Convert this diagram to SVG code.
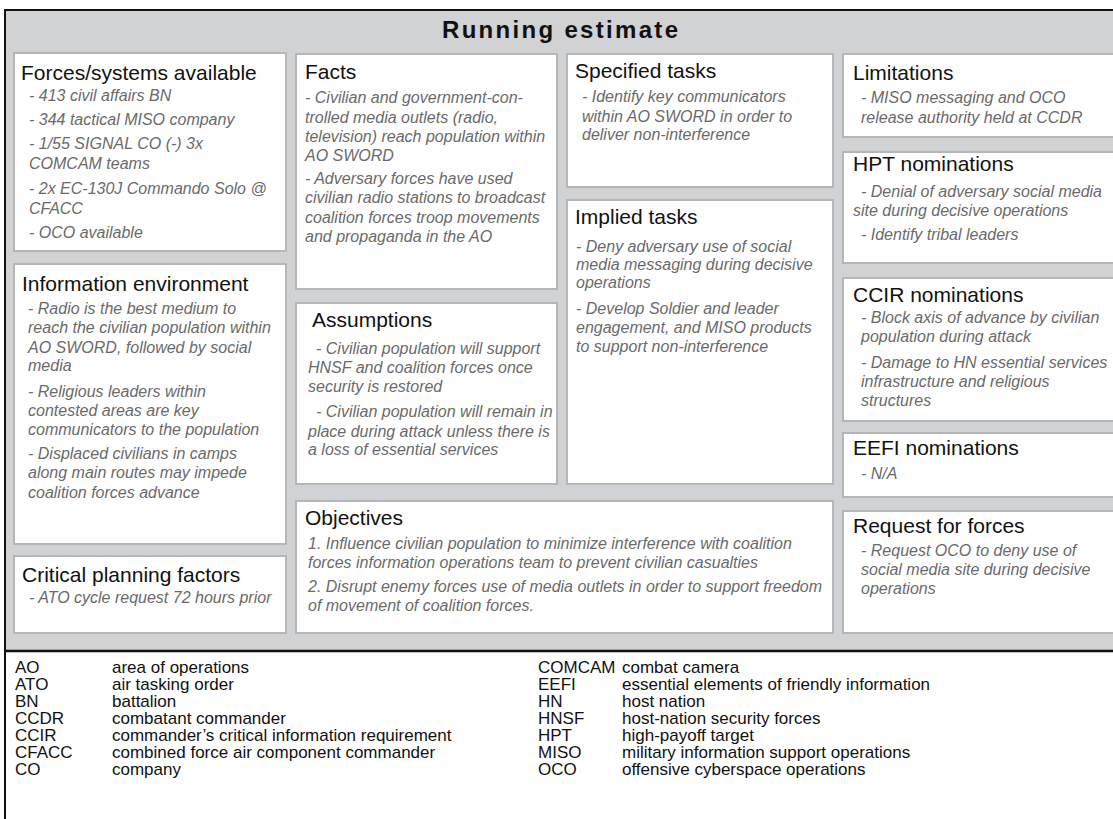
<svg xmlns="http://www.w3.org/2000/svg" width="1113" height="819" viewBox="0 0 1113 819">
<style>
.bg{fill:#d1d2d4}
.box{fill:#ffffff;stroke:#b5b6b8;stroke-width:2}
text{font-family:"Liberation Sans",Arial,sans-serif}
.t{font-size:24px;font-weight:bold;fill:#111}
.h{font-size:21px;fill:#111}
.b{font-size:16px;font-style:italic;fill:#6a6a6a}
.lg{font-size:17px;fill:#111}
</style>
<rect x="0" y="0" width="1113" height="819" fill="#ffffff"/>
<rect class="bg" x="5" y="10" width="1110" height="640"/>
<line x1="5" y1="10" x2="1113" y2="10" stroke="#111" stroke-width="2"/>
<line x1="5" y1="9" x2="5" y2="819" stroke="#111" stroke-width="2"/>
<line x1="5" y1="651" x2="1113" y2="651" stroke="#111" stroke-width="2.5"/>
<text class="t" x="442" y="38" textLength="236" lengthAdjust="spacing">Running estimate</text>

<g id="forces">
<rect class="box" x="14" y="53" width="272" height="198"/>
<text class="h" x="21" y="80">Forces/systems available</text>
<text class="b" x="29" y="101">- 413 civil affairs BN</text>
<text class="b" x="29" y="125">- 344 tactical MISO company</text>
<text class="b" x="29" y="149">- 1/55 SIGNAL CO (-) 3x</text>
<text class="b" x="29" y="169">COMCAM teams</text>
<text class="b" x="29" y="194">- 2x EC-130J Commando Solo @</text>
<text class="b" x="29" y="214">CFACC</text>
<text class="b" x="29" y="238">- OCO available</text>
</g>

<g id="info-env">
<rect class="box" x="14" y="264" width="272" height="280"/>
<text class="h" x="22" y="291">Information environment</text>
<text class="b" x="28" y="314">- Radio is the best medium to</text>
<text class="b" x="28" y="333">reach the civilian population within</text>
<text class="b" x="28" y="353">AO SWORD, followed by social</text>
<text class="b" x="28" y="371">media</text>
<text class="b" x="28" y="397">- Religious leaders within</text>
<text class="b" x="28" y="416">contested areas are key</text>
<text class="b" x="28" y="435">communicators to the population</text>
<text class="b" x="28" y="459">- Displaced civilians in camps</text>
<text class="b" x="28" y="478">along main routes may impede</text>
<text class="b" x="28" y="498">coalition forces advance</text>
</g>

<g id="critical">
<rect class="box" x="14" y="556" width="272" height="77"/>
<text class="h" x="22" y="582">Critical planning factors</text>
<text class="b" x="29" y="603">- ATO cycle request 72 hours prior</text>
</g>

<g id="facts">
<rect class="box" x="296" y="54" width="261" height="235"/>
<text class="h" x="305" y="79">Facts</text>
<text class="b" x="305" y="103">- Civilian and government-con-</text>
<text class="b" x="305" y="123">trolled media outlets (radio,</text>
<text class="b" x="305" y="142">television) reach population within</text>
<text class="b" x="305" y="161">AO SWORD</text>
<text class="b" x="305" y="184">- Adversary forces have used</text>
<text class="b" x="305" y="203">civilian radio stations to broadcast</text>
<text class="b" x="305" y="223">coalition forces troop movements</text>
<text class="b" x="305" y="242">and propaganda in the AO</text>
</g>

<g id="assumptions">
<rect class="box" x="296" y="303" width="261" height="181"/>
<text class="h" x="312" y="327">Assumptions</text>
<text class="b" x="316" y="354">- Civilian population will support</text>
<text class="b" x="308" y="373">HNSF and coalition forces once</text>
<text class="b" x="308" y="392">security is restored</text>
<text class="b" x="316" y="417">- Civilian population will remain in</text>
<text class="b" x="308" y="437">place during attack unless there is</text>
<text class="b" x="308" y="455">a loss of essential services</text>
</g>

<g id="specified">
<rect class="box" x="567" y="54" width="266" height="133"/>
<text class="h" x="575" y="78">Specified tasks</text>
<text class="b" x="582" y="102">- Identify key communicators</text>
<text class="b" x="582" y="122">within AO SWORD in order to</text>
<text class="b" x="582" y="140">deliver non-interference</text>
</g>

<g id="implied">
<rect class="box" x="567" y="200" width="266" height="284"/>
<text class="h" x="575" y="224">Implied tasks</text>
<text class="b" x="576" y="252">- Deny adversary use of social</text>
<text class="b" x="576" y="270">media messaging during decisive</text>
<text class="b" x="576" y="288">operations</text>
<text class="b" x="576" y="314">- Develop Soldier and leader</text>
<text class="b" x="576" y="333">engagement, and MISO products</text>
<text class="b" x="576" y="352">to support non-interference</text>
</g>

<g id="objectives">
<rect class="box" x="296" y="501" width="537" height="132"/>
<text class="h" x="305" y="525">Objectives</text>
<text class="b" x="308" y="549">1. Influence civilian population to minimize interference with coalition</text>
<text class="b" x="308" y="568">forces information operations team to prevent civilian casualties</text>
<text class="b" x="308" y="592">2. Disrupt enemy forces use of media outlets in order to support freedom</text>
<text class="b" x="308" y="611">of movement of coalition forces.</text>
</g>

<g id="limitations">
<rect class="box" x="843" y="54" width="280" height="83"/>
<text class="h" x="853" y="80">Limitations</text>
<text class="b" x="861" y="103">- MISO messaging and OCO</text>
<text class="b" x="861" y="123">release authority held at CCDR</text>
</g>

<g id="hpt">
<rect class="box" x="843" y="152" width="280" height="111"/>
<text class="h" x="853" y="171">HPT nominations</text>
<text class="b" x="861" y="197">- Denial of adversary social media</text>
<text class="b" x="853" y="216">site during decisive operations</text>
<text class="b" x="861" y="240">- Identify tribal leaders</text>
</g>

<g id="ccir">
<rect class="box" x="843" y="278" width="280" height="143"/>
<text class="h" x="853" y="302">CCIR nominations</text>
<text class="b" x="861" y="323">- Block axis of advance by civilian</text>
<text class="b" x="861" y="342">population during attack</text>
<text class="b" x="861" y="368">- Damage to HN essential services</text>
<text class="b" x="861" y="387">infrastructure and religious</text>
<text class="b" x="861" y="406">structures</text>
</g>

<g id="eefi">
<rect class="box" x="843" y="433" width="280" height="64"/>
<text class="h" x="853" y="455">EEFI nominations</text>
<text class="b" x="861" y="479">- N/A</text>
</g>

<g id="rff">
<rect class="box" x="843" y="511" width="280" height="122"/>
<text class="h" x="853" y="533">Request for forces</text>
<text class="b" x="861" y="556">- Request OCO to deny use of</text>
<text class="b" x="861" y="575">social media site during decisive</text>
<text class="b" x="861" y="594">operations</text>
</g>

<g id="connectors"></g>

<g id="legend">
<text class="lg" x="15" y="673">AO</text><text class="lg" x="112" y="673">area of operations</text>
<text class="lg" x="15" y="690">ATO</text><text class="lg" x="112" y="690">air tasking order</text>
<text class="lg" x="15" y="707">BN</text><text class="lg" x="112" y="707">battalion</text>
<text class="lg" x="15" y="724">CCDR</text><text class="lg" x="112" y="724">combatant commander</text>
<text class="lg" x="15" y="741">CCIR</text><text class="lg" x="112" y="741">commander’s critical information requirement</text>
<text class="lg" x="15" y="758">CFACC</text><text class="lg" x="112" y="758">combined force air component commander</text>
<text class="lg" x="15" y="775">CO</text><text class="lg" x="112" y="775">company</text>
<text class="lg" x="538" y="673">COMCAM</text><text class="lg" x="622" y="673">combat camera</text>
<text class="lg" x="538" y="690">EEFI</text><text class="lg" x="622" y="690">essential elements of friendly information</text>
<text class="lg" x="538" y="707">HN</text><text class="lg" x="622" y="707">host nation</text>
<text class="lg" x="538" y="724">HNSF</text><text class="lg" x="622" y="724">host-nation security forces</text>
<text class="lg" x="538" y="741">HPT</text><text class="lg" x="622" y="741">high-payoff target</text>
<text class="lg" x="538" y="758">MISO</text><text class="lg" x="622" y="758">military information support operations</text>
<text class="lg" x="538" y="775">OCO</text><text class="lg" x="622" y="775">offensive cyberspace operations</text>
</g>
</svg>
